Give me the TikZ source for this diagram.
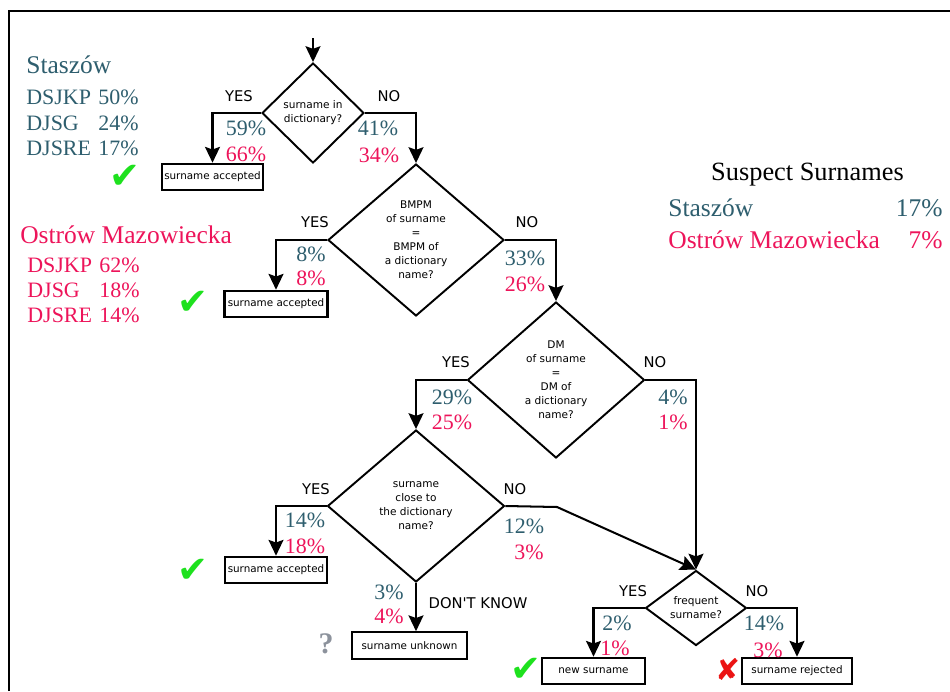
\documentclass[tikz,border=0pt]{standalone}
\usepackage{fontspec}
\setmainfont{Liberation Serif}
\newfontfamily\flowfont{DejaVu Sans}
\usetikzlibrary{arrows.meta}
\usetikzlibrary{shapes.geometric}
\definecolor{staszow}{RGB}{46,94,110}
\definecolor{ostrow}{RGB}{237,20,90}
\definecolor{tickgreen}{RGB}{30,225,30}
\definecolor{rejectred}{RGB}{235,20,20}
\definecolor{unknowngrey}{RGB}{140,146,156}
\pgfdeclarelayer{edgelayer}
\pgfdeclarelayer{nodelayer}
\pgfsetlayers{edgelayer,nodelayer,main}
\tikzstyle{decision}=[diamond,draw=black,line width=1.1pt,inner sep=0pt,align=center,font=\flowfont\fontsize{6}{8}\selectfont]
\tikzstyle{outcome}=[rectangle,draw=black,line width=1.2pt,minimum height=0.53cm,inner sep=0pt,font=\flowfont\fontsize{5.9}{7}\selectfont]
\tikzstyle{flow}=[-{Stealth[length=9pt,width=8.5pt,inset=1.5pt]},draw=black,line width=1.15pt]
\tikzstyle{answer}=[inner sep=0pt,font=\flowfont\fontsize{8.4}{10}\selectfont]
\tikzstyle{stpct}=[inner sep=0pt,text=staszow,font=\fontsize{12.5}{14}\selectfont]
\tikzstyle{ospct}=[inner sep=0pt,text=ostrow,font=\fontsize{12.5}{14}\selectfont]
\tikzstyle{town}=[inner sep=0pt,font=\fontsize{14.5}{16}\selectfont]
\tikzstyle{tick}=[inner sep=0pt,text=tickgreen,font=\flowfont\fontsize{21}{21}\selectfont]
\tikzstyle{rejectmark}=[inner sep=0pt,text=rejectred,font=\flowfont\fontsize{17}{17}\selectfont]

\begin{document}
\begin{tikzpicture}
	\useasboundingbox (0, 0) rectangle (19, -13.82);
	\draw [line width=1.4pt] (0.18, -13.82) -- (0.18, -0.22) -- (19, -0.22);
	\begin{pgfonlayer}{nodelayer}
		\coordinate (0) at (6.26, -0.76);
		\node [style=decision, minimum width=2.04cm, minimum height=2cm] (1) at (6.26, -2.26) {surname in\\dictionary?};
		\node [style=outcome, minimum width=2.02cm] (2) at (4.25, -3.54) {surname accepted};
		\node [style=decision, minimum width=3.52cm, minimum height=3.04cm] (3) at (8.32, -4.8) {BMPM\\of surname\\=\\BMPM of\\a dictionary\\name?};
		\node [style=outcome, minimum width=2.06cm] (4) at (5.52, -6.08) {surname accepted};
		\node [style=decision, minimum width=3.54cm, minimum height=3.12cm] (5) at (11.12, -7.6) {DM\\of surname\\=\\DM of\\a dictionary\\name?};
		\node [style=decision, minimum width=3.54cm, minimum height=3.04cm] (6) at (8.32, -10.12) {surname\\close to\\the dictionary\\name?};
		\node [style=outcome, minimum width=2.04cm] (7) at (5.52, -11.4) {surname accepted};
		\node [style=outcome, minimum width=2.3cm] (8) at (8.19, -12.91) {surname unknown};
		\coordinate (9) at (11.14, -10.14);
		\node [style=decision, shape aspect=1.35, minimum width=2.02cm, minimum height=1.5cm] (10) at (13.92, -12.16) {frequent\\surname?};
		\node [style=outcome, minimum width=2.06cm] (11) at (11.87, -13.42) {new surname};
		\node [style=outcome, minimum width=2.2cm] (12) at (15.94, -13.42) {surname rejected};

		% answers on the branches
		\node [style=answer] (13) at (4.78, -1.92) {YES};
		\node [style=answer] (14) at (7.78, -1.92) {NO};
		\node [style=answer] (15) at (6.3, -4.44) {YES};
		\node [style=answer] (16) at (10.54, -4.44) {NO};
		\node [style=answer] (17) at (9.12, -7.24) {YES};
		\node [style=answer] (18) at (13.1, -7.24) {NO};
		\node [style=answer] (19) at (6.32, -9.78) {YES};
		\node [style=answer] (20) at (10.3, -9.78) {NO};
		\node [style=answer] (21) at (9.56, -12.06) {DON'T KNOW};
		\node [style=answer] (22) at (12.66, -11.82) {YES};
		\node [style=answer] (23) at (15.14, -11.82) {NO};

		% shares per branch
		\node [style=stpct] (24) at (4.92, -2.56) {59\%};
		\node [style=ospct] (25) at (4.92, -3.08) {66\%};
		\node [style=stpct] (26) at (7.56, -2.56) {41\%};
		\node [style=ospct] (27) at (7.58, -3.1) {34\%};
		\node [style=stpct] (28) at (6.22, -5.08) {8\%};
		\node [style=ospct] (29) at (6.22, -5.56) {8\%};
		\node [style=stpct] (30) at (10.5, -5.16) {33\%};
		\node [style=ospct] (31) at (10.5, -5.68) {26\%};
		\node [style=stpct] (32) at (9.04, -7.94) {29\%};
		\node [style=ospct] (33) at (9.04, -8.44) {25\%};
		\node [style=stpct] (34) at (13.46, -7.94) {4\%};
		\node [style=ospct] (35) at (13.46, -8.44) {1\%};
		\node [style=stpct] (36) at (6.1, -10.4) {14\%};
		\node [style=ospct] (37) at (6.1, -10.92) {18\%};
		\node [style=stpct] (38) at (10.48, -10.52) {12\%};
		\node [style=ospct] (39) at (10.58, -11.04) {3\%};
		\node [style=stpct] (40) at (7.78, -11.84) {3\%};
		\node [style=ospct] (41) at (7.78, -12.32) {4\%};
		\node [style=stpct] (42) at (12.34, -12.46) {2\%};
		\node [style=ospct] (43) at (12.3, -12.96) {1\%};
		\node [style=stpct] (44) at (15.28, -12.46) {14\%};
		\node [style=ospct] (45) at (15.36, -13.0) {3\%};

		% marks
		\node [style=tick] (46) at (2.5, -3.54) {✔};
		\node [style=tick] (47) at (3.86, -6.06) {✔};
		\node [style=tick] (48) at (3.86, -11.42) {✔};
		\node [style=tick] (49) at (10.52, -13.4) {✔};
		\node [style=rejectmark] (50) at (14.56, -13.38) {✘};
		\node [inner sep=0pt, text=unknowngrey, font=\bfseries\fontsize{17}{17}\selectfont] (51) at (6.52, -12.88) {?};

		% legends
		\node [style=town, text=staszow, anchor=west] (52) at (0.52, -1.3) {Staszów};
		\node [style=stpct, anchor=west] (53) at (0.52, -1.94) {DSJKP};
		\node [style=stpct, anchor=west] (54) at (1.96, -1.94) {50\%};
		\node [style=stpct, anchor=west] (55) at (0.52, -2.46) {DJSG};
		\node [style=stpct, anchor=west] (56) at (1.96, -2.46) {24\%};
		\node [style=stpct, anchor=west] (57) at (0.52, -2.96) {DJSRE};
		\node [style=stpct, anchor=west] (58) at (1.96, -2.96) {17\%};
		\node [style=town, text=ostrow, anchor=west] (59) at (0.4, -4.7) {Ostrów Mazowiecka};
		\node [style=ospct, anchor=west] (60) at (0.54, -5.3) {DSJKP};
		\node [style=ospct, anchor=west] (61) at (1.98, -5.3) {62\%};
		\node [style=ospct, anchor=west] (62) at (0.54, -5.8) {DJSG};
		\node [style=ospct, anchor=west] (63) at (1.98, -5.8) {18\%};
		\node [style=ospct, anchor=west] (64) at (0.54, -6.3) {DJSRE};
		\node [style=ospct, anchor=west] (65) at (1.98, -6.3) {14\%};
		\node [style=town, font=\fontsize{15}{16}\selectfont] (66) at (16.15, -3.5) {Suspect Surnames};
		\node [style=town, text=staszow, anchor=west] (67) at (13.36, -4.16) {Staszów};
		\node [style=town, text=staszow, anchor=east] (68) at (18.86, -4.16) {17\%};
		\node [style=town, text=ostrow, anchor=west] (69) at (13.36, -4.8) {Ostrów Mazowiecka};
		\node [style=town, text=ostrow, anchor=east] (70) at (18.86, -4.8) {7\%};
	\end{pgfonlayer}
	\begin{pgfonlayer}{edgelayer}
		\draw [style=flow] (0) to (1);
		\draw [style=flow] (1.west) -| (2.north);
		\draw [style=flow] (1.east) -| (3.north);
		\draw [style=flow] (3.west) -| (4.north);
		\draw [style=flow] (3.east) -| (5.north);
		\draw [style=flow] (5.west) -| (6.north);
		\draw [style=flow] (5.east) -| (10.north);
		\draw [style=flow] (6.west) -| (7.north);
		\draw [style=flow] (6.south) -- (6.south |- 8.north);
		\draw [style=flow] (6.east) -- (9) -- (10.north);
		\draw [style=flow] (10.west) -| (11.north);
		\draw [style=flow] (10.east) -| (12.north);
	\end{pgfonlayer}
\end{tikzpicture}
\end{document}
